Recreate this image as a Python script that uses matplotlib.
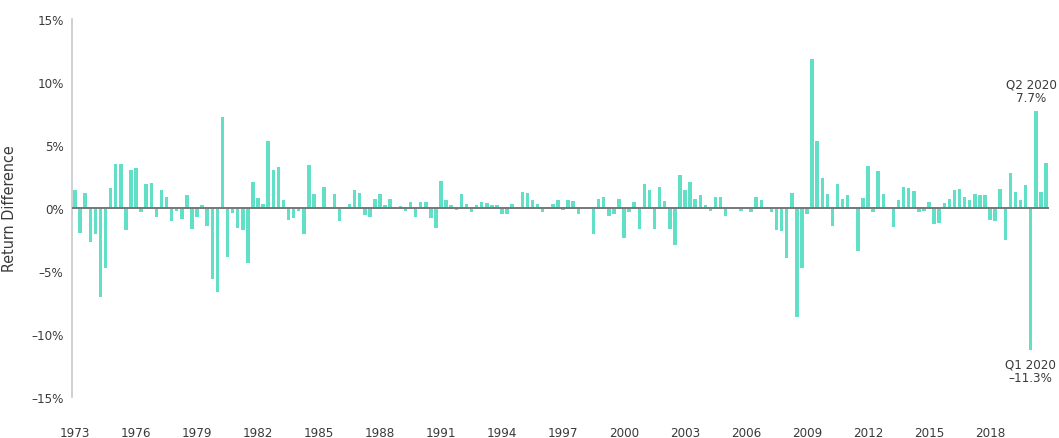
import matplotlib
matplotlib.use("Agg")
import matplotlib.pyplot as plt
import numpy as np

plt.rcParams['font.family'] = ['DejaVu Sans']
plt.rcParams['font.stretch'] = 'condensed'

# quarterly return difference (%), 1973 Q1 .. 2020 Q4
start_year = 1973
diffs = [
    1.4, -2.0, 1.2, -2.7, -2.1, -7.1, -4.8, 1.6, 3.5, 3.5, -1.75, 3.0, 3.2, -0.3, 1.9, 2.0, -0.75,
    1.4, 0.85, -1.05, -0.25, -0.85, 1.05, -1.65, -0.7, 0.25, -1.4, -5.65, -6.7, 7.25, -3.85, -0.4, -1.55, -1.75, -4.35,
    2.1, 0.8, 0.35, 5.3, 3.0, 3.25, 0.6, -0.95, -0.8, -0.25, -2.05, 3.45, 1.15, 0.1, 1.65, -0.1, 1.1, -1.05,
    0.1, 0.35, 1.4, 1.2, -0.55, -0.75, 0.7, 1.15, 0.2, 0.7, 0.1, 0.15, -0.25, 0.5, -0.7, 0.5, 0.45,
    -0.8, -1.55, 2.15, 0.65, 0.2, -0.15, 1.1, 0.35, -0.3, 0.2, 0.5, 0.4, 0.25, 0.25, -0.5, -0.45, 0.3, 0.1,
    1.25, 1.2, 0.6, 0.35, -0.3, 0.0, 0.35, 0.6, -0.15, 0.65, 0.55, -0.45, 0.0, -0.1, -2.1, 0.75, 0.9, -0.65,
    -0.45, 0.75, -2.35, -0.3, 0.45, -1.65, 1.9, 1.45, -1.65, 1.65, 0.55, -1.65, -2.9, 2.6, 1.4, 2.05, 0.75,
    1.0, 0.2, -0.25, 0.9, 0.85, -0.65, -0.1, 0.1, -0.25, 0.1, -0.35, 0.85, 0.6, 0.1, -0.3, -1.75, -1.8, -4.0,
    1.2, -8.65, -4.75, -0.5, 11.85, 5.35, 2.35, 1.1, -1.4, 1.9, 0.75, 1.05, 0.1, -3.45, 0.8, 3.3, -0.35, 2.95,
    1.15, 0.0, -1.5, 0.6, 1.7, 1.55, 1.35, -0.35, -0.2, 0.5, -1.3, -1.2, 0.4, 0.7, 1.4, 1.5, 0.85, 0.6,
    1.15, 1.0, 1.0, -0.95, -1.0, 1.5, -2.55, 2.75, 1.25, 0.6, 1.85, -11.3, 7.7, 1.3, 3.6,
]
tick_years = [1973, 1976, 1979, 1982, 1985, 1988, 1991, 1994, 1997, 2000,
              2003, 2006, 2009, 2012, 2015, 2018]
y_ticks = [-15, -10, -5, 0, 5, 10, 15]
y_labels = ['–15%', '–10%', '–5%', '0%', '5%', '10%', '15%']

# annotated quarters
notes = [(2020, 1, 'Q1 2020\n–11.3%'), (2020, 2, 'Q2 2020\n7.7%')]

bar_color = '#62e0c7'
text_color = '#3a3a3a'

x = np.arange(len(diffs))

fig = plt.figure(figsize=(10.59, 4.39), dpi=100)
ax = fig.add_axes([72 / 1059, 41 / 439, 977 / 1059, 378 / 439])

ax.bar(x, diffs, width=0.68, color=bar_color, linewidth=0)
ax.axhline(0, color='#777777', linewidth=1.4, zorder=3)

ax.set_xlim(-0.6, len(diffs) - 0.4)
ax.set_ylim(-15, 15)

ax.set_xticks([(yr - start_year) * 4 for yr in tick_years])
ax.set_xticklabels([str(yr) for yr in tick_years])
ax.set_yticks(y_ticks)
ax.set_yticklabels(y_labels)
ax.tick_params(axis='x', length=0, pad=21, labelsize=9.5, labelcolor=text_color)
ax.tick_params(axis='y', length=0, pad=6, labelsize=9.5, labelcolor=text_color)

for s in ['top', 'right', 'bottom']:
    ax.spines[s].set_visible(False)
ax.spines['left'].set_color('#c4c8cc')
ax.spines['left'].set_linewidth(1.2)

ax.set_ylabel('Return Difference', fontsize=11.5, color=text_color, labelpad=10)

for yr, q, txt in notes:
    i = (yr - start_year) * 4 + q - 1
    v = diffs[i]
    if v >= 0:
        ax.annotate(txt, (x[i], v), xytext=(-3, 5), textcoords='offset points',
                    ha='center', va='bottom', fontsize=9.5, color=text_color,
                    linespacing=1.1)
    else:
        ax.annotate(txt, (x[i], v), xytext=(0, -5), textcoords='offset points',
                    ha='center', va='top', fontsize=9.5, color=text_color,
                    linespacing=1.1)

fig.savefig('out.png', dpi=100)
